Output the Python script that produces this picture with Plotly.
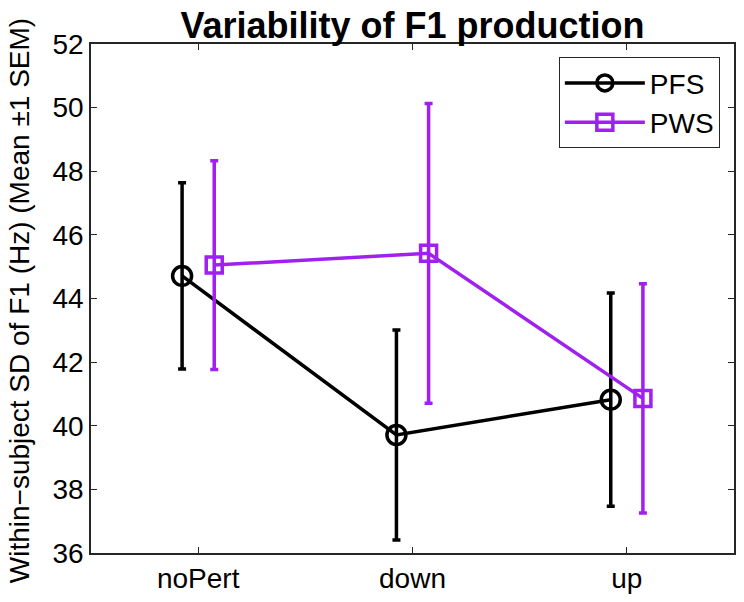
import plotly.graph_objects as go

categories = ["noPert", "down", "up"]
cat_pos = [1, 2, 3]
offset = 0.075

pfs_mean = [44.71, 39.71, 40.82]
pfs_sem = [2.93, 3.30, 3.35]
pws_mean = [45.05, 45.42, 40.86]
pws_sem = [3.28, 4.71, 3.60]

black = "#000000"
purple = "#A020F0"
font_family = "Liberation Sans, Arial, Helvetica, sans-serif"

fig = go.Figure()
fig.add_trace(go.Scatter(
    x=[p - offset for p in cat_pos], y=pfs_mean, name="PFS",
    mode="lines+markers",
    line=dict(color=black, width=3.5),
    marker=dict(symbol="circle-open", size=19, color=black, line=dict(width=3.5, color=black)),
    error_y=dict(type="data", array=pfs_sem, visible=True, color=black, thickness=3.5, width=4),
))
fig.add_trace(go.Scatter(
    x=[p + offset for p in cat_pos], y=pws_mean, name="PWS",
    mode="lines+markers",
    line=dict(color=purple, width=3.5),
    marker=dict(symbol="square-open", size=16, color=purple, line=dict(width=3.5, color=purple)),
    error_y=dict(type="data", array=pws_sem, visible=True, color=purple, thickness=3.5, width=4),
))

axis_common = dict(
    showline=True, linecolor="#262626", linewidth=1.5, mirror="ticks",
    ticks="inside", ticklen=6, tickcolor="#262626", tickwidth=1,
    showgrid=False, zeroline=False,
    tickfont=dict(family=font_family, size=28, color="#000000"),
)

fig.update_layout(
    width=744, height=602,
    margin=dict(l=91, r=8, t=44, b=49),
    paper_bgcolor="white", plot_bgcolor="white",
    showlegend=True,
    title=dict(text="<b>Variability of F1 production</b>", x=0.5, xref="paper", xanchor="center",
               y=1 - 25 / 602, yref="container", yanchor="middle",
               font=dict(family=font_family, size=36, color="#000000")),
    xaxis=dict(range=[0.5, 3.5], tickvals=cat_pos, ticktext=categories, **axis_common),
    yaxis=dict(range=[36, 52], tickvals=list(range(36, 53, 2)), ticklabelstandoff=0, **axis_common),
    legend=dict(x=0.978, y=0.974, xanchor="right", yanchor="top",
                bordercolor="#262626", borderwidth=1, bgcolor="white",
                font=dict(family=font_family, size=28, color="#000000"),
                itemwidth=80, tracegroupgap=0),
    annotations=[dict(
        text="Within\u2212subject SD of F1 (Hz) (Mean \u00b11 SEM)",
        xref="paper", yref="paper", x=(19 - 91) / 645, y=0.495,
        xanchor="center", yanchor="middle", textangle=-90, showarrow=False,
        font=dict(family=font_family, size=28, color="#000000"),
    )],
)

fig.write_html(
    "out.html",
    config={"displayModeBar": False},
    post_script="document.body.style.margin='0';document.body.style.padding='0';",
)
